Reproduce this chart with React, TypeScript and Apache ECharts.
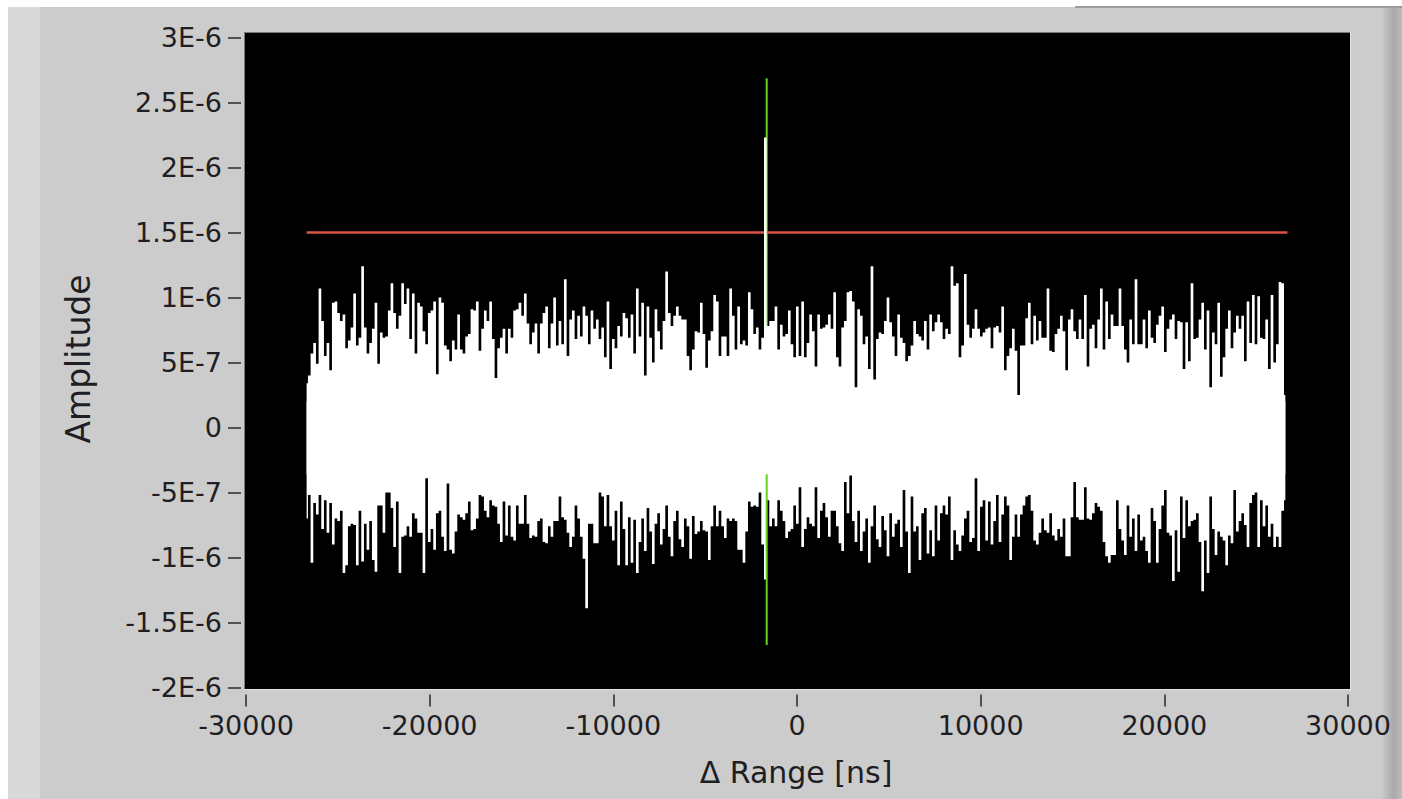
import React, { useEffect, useRef } from "react";
import * as echarts from "echarts";

// ---- data (amplitude envelopes, in units of 1E-8) ----
const X_START = -26700; // ns, first sample
const SAMPLE_NS = 145.2; // ns between samples
const UNIT = 1e-8;

// upper edge of the noise trace (peak value of each sample)
const UPPER = [
  34, 40, 57, 65, 49, 107, 82, 55, 65, 44, 96, 97, 88, 82, 87, 61, 67, 77, 103, 63, 69, 124, 77, 57, 65, 76, 96, 49, 73, 69,
  70, 90, 111, 88, 76, 86, 111, 95, 107, 68, 103, 57, 96, 93, 74, 64, 88, 90, 97, 41, 100, 96, 63, 60, 51, 67, 60, 87, 60, 57,
  70, 72, 91, 90, 97, 59, 76, 90, 82, 97, 68, 38, 61, 69, 76, 57, 76, 69, 90, 91, 96, 86, 103, 80, 64, 73, 80, 57, 80, 88,
  93, 61, 80, 100, 63, 82, 64, 114, 55, 83, 90, 68, 86, 70, 93, 86, 64, 90, 76, 83, 68, 77, 54, 97, 45, 68, 61, 78, 70, 88,
  84, 69, 87, 57, 107,
  70, 96, 40, 93, 69, 50, 91, 74, 60, 82, 120, 88, 78, 86, 93, 86, 83, 83, 55, 44, 60, 74, 73, 96, 72, 46, 67, 74, 102, 97,
  55, 70, 70, 55, 107, 86, 60, 93, 64, 67, 63, 104, 91, 72, 77, 60, 69, 223, 78, 82, 82, 93, 60, 79, 70, 72, 90, 64, 54, 93,
  55, 97, 54, 65, 87, 74, 47, 87, 76, 77, 79, 87, 76, 104, 54, 47, 77, 82, 104, 105, 97, 31, 91, 86, 64, 70, 45, 124, 37, 68,
  73, 72, 82, 100, 81, 70, 55, 87, 69, 65, 51, 55, 63, 82, 72, 70, 67, 82, 60, 87, 74, 81, 87, 81, 68, 76, 72, 124, 109, 111,
  54, 63, 118, 79, 69, 76, 91, 76, 70, 73, 76, 77, 61, 77, 78,
  73, 93, 44, 55, 61, 76, 59, 25, 63, 63, 84, 96, 64, 86, 67, 82, 69, 69, 107, 59, 58, 72, 76, 86, 74, 44, 83, 91, 74, 68,
  83, 68, 102, 47, 76, 79, 61, 83, 107, 60, 97, 68, 87, 78, 78, 107, 78, 60, 50, 83, 64, 114, 64, 64, 83, 61, 90, 69, 65, 79,
  86, 93, 58, 76, 83, 87, 68, 82, 81, 45, 81, 51, 111, 68, 69, 83, 96, 60, 90, 31, 73, 64, 96, 39, 54, 76, 90, 61, 73, 86,
  76, 86, 51, 97, 65, 102, 64, 101, 69, 68, 83, 45, 102, 50, 64, 112, 111, 25,
];

// lower edge of the noise trace (trough value of each sample)
const LOWER = [
  -70, -52, -104, -58, -67, -52, -78, -56, -81, -58, -90, -70, -72, -64, -112, -106, -76, -74, -75, -106, -64, -103, -74, -94, -72,
  -102, -111, -60, -60, -81, -50, -50, -62, -92, -57, -112, -84, -83, -76, -84, -66, -70, -81, -81, -112, -39, -88, -78, -94, -66,
  -64, -84, -95, -43, -94, -97, -80, -67, -69, -71, -66, -57, -79, -78, -70, -52, -53, -64, -69, -56, -60, -61, -74, -88, -57,
  -83, -60, -84, -87, -60, -74, -74, -52, -74, -85, -83, -84, -72, -70, -88, -89, -76, -84, -72, -72, -53, -69, -71, -81, -92,
  -84, -60, -70, -84, -101, -139, -74, -74, -89, -89, -50, -53, -76, -52, -76, -87, -64, -106, -57, -78, -106, -69, -104, -71, -112,
  -88, -70, -95, -62, -80, -105, -74, -66, -90, -78, -60, -84, -99, -72, -64, -86, -92, -70, -76, -101, -68, -82, -80,
  -72, -79, -80, -102, -76, -60, -76, -64, -76, -85, -70, -72, -70, -72, -94, -94, -104, -80, -57, -61, -60, -61, -50, -90, -117,
  -56, -76, -70, -76, -56, -64, -72, -85, -80, -78, -60, -74, -46, -92, -78, -69, -74, -76, -46, -85, -64, -58, -69, -84, -64,
  -64, -76, -89, -95, -42, -66, -37,
  -72, -88, -64, -95, -80, -70, -104, -76, -60, -86, -92, -68, -79, -99, -66, -84, -74,
  -71, -92, -48, -80, -112, -53, -80, -76, -102, -66, -62, -97, -79, -99, -60, -87, -66, -60, -67, -53, -102, -79, -90, -95, -83,
  -70, -64, -88, -85, -39, -95, -61, -56, -87, -57, -90, -72, -52, -88, -67, -53, -60, -102, -84, -67, -84, -67, -60, -53, -52,
  -64, -87, -90, -81, -70, -79, -81, -66, -83, -87, -78, -84, -70, -99, -99, -69, -42, -69, -71, -71, -46, -70, -71, -66, -58,
  -61, -64, -88, -99, -104, -98, -98, -56, -78, -87, -98, -60, -84, -70, -95, -67, -87, -84, -95, -104, -62, -72, -104, -78, -60,
  -48, -81, -83, -118, -79, -111, -53, -85, -56, -76, -72, -71, -66, -88, -126, -87, -112, -53, -78, -98, -80, -84, -87, -106, -83,
  -89, -48, -80, -72, -66, -75, -92, -58, -52, -50, -92, -56, -76, -60, -84, -74, -92, -84, -92, -64, -56,
];

const THRESHOLD = 1.5e-6;
const THRESHOLD_X = [-26700, 26700];
const CURSOR_X = -1650;
const CURSOR_Y = [2.686e-6, -1.673e-6];

const X_MIN = -30000;
const X_MAX = 30000;
const X_STEP = 10000;
const Y_TICK_VALUES = [-2e-6, -1.5e-6, -1e-6, -5e-7, 0, 5e-7, 1e-6, 1.5e-6, 2e-6, 2.5e-6, 3e-6];
const Y_TICK_LABELS = ["-2E-6", "-1.5E-6", "-1E-6", "-5E-7", "0", "5E-7", "1E-6", "1.5E-6", "2E-6", "2.5E-6", "3E-6"];
const X_TITLE = "\u0394 Range [ns]";
const Y_TITLE = "Amplitude";

const FONT = "DejaVu Sans";
const TEXT_COLOR = "#1e1e24";

export default function App() {
  const ref = useRef<HTMLDivElement>(null);

  useEffect(() => {
    if (!ref.current) return;
    const chart = echarts.init(ref.current, null, { renderer: "svg" });

    const upperData = UPPER.map((v, i) => [X_START + i * SAMPLE_NS, v * UNIT]);
    const lowerData = LOWER.map((v, i) => [X_START + i * SAMPLE_NS, v * UNIT]);

    const yLabel = (v: number) => {
      for (let i = 0; i < Y_TICK_VALUES.length; i++) {
        if (Math.abs(Y_TICK_VALUES[i] - v) < 1e-12) return Y_TICK_LABELS[i];
      }
      return "";
    };

    chart.setOption({
      animation: false,
      backgroundColor: "#ffffff",
      grid: { left: 246, right: 54, top: 37.5, bottom: 111.5, containLabel: false },
      graphic: [
        { type: "rect", z: -10, shape: { x: 8, y: 7, width: 1394, height: 792 }, style: { fill: "#cccccc" } },
        { type: "rect", z: -9, shape: { x: 8, y: 7, width: 32, height: 792 }, style: { fill: "#d9d9d9" } },
        {
          type: "rect",
          z: -9,
          shape: { x: 1382, y: 7, width: 20, height: 792 },
          style: {
            fill: new echarts.graphic.LinearGradient(0, 0, 1, 0, [
              { offset: 0, color: "#c9c9c9" },
              { offset: 0.6, color: "#a9a9a9" },
              { offset: 1, color: "#bdbdbd" },
            ]),
          },
        },
        { type: "rect", z: -9, shape: { x: 1075, y: 6, width: 327, height: 2 }, style: { fill: "#9c9c9c" } },
        { type: "rect", z: -8, shape: { x: 244, y: 32, width: 1107, height: 658 }, style: { fill: "#e4e4e4" } },
        { type: "rect", z: -7, shape: { x: 244, y: 32, width: 1106, height: 657 }, style: { fill: "#7a7a7a" } },
        { type: "rect", z: -6, shape: { x: 245, y: 33, width: 1105, height: 656 }, style: { fill: "#000000" } },
        {
          type: "text",
          z: 10,
          x: 78,
          y: 359,
          rotation: Math.PI / 2,
          style: {
            text: Y_TITLE,
            fill: TEXT_COLOR,
            font: `33px "${FONT}"`,
            align: "center",
            verticalAlign: "middle",
          },
        },
        {
          type: "text",
          z: 10,
          x: 796,
          y: 772,
          style: {
            text: X_TITLE,
            fill: TEXT_COLOR,
            font: `30px "${FONT}"`,
            align: "center",
            verticalAlign: "middle",
          },
        },
      ],
      xAxis: {
        type: "value",
        min: X_MIN,
        max: X_MAX,
        interval: X_STEP,
        offset: 7,
        axisLine: { show: false, onZero: false },
        axisTick: { show: true, length: 12, lineStyle: { color: "#2a2a2a", width: 1.5 } },
        splitLine: { show: false },
        axisLabel: {
          margin: 17,
          color: TEXT_COLOR,
          fontFamily: FONT,
          fontSize: 27,
          formatter: (v: number) => String(v),
        },
      },
      yAxis: {
        type: "value",
        min: Y_TICK_VALUES[0],
        max: Y_TICK_VALUES[Y_TICK_VALUES.length - 1],
        interval: 5e-7,
        offset: 5,
        axisLine: { show: false, onZero: false },
        axisTick: { show: true, length: 13, lineStyle: { color: "#2a2a2a", width: 1.5 } },
        splitLine: { show: false },
        axisLabel: {
          margin: 19,
          color: TEXT_COLOR,
          fontFamily: FONT,
          fontSize: 27,
          formatter: yLabel,
        },
      },
      series: [
        {
          name: "lower",
          type: "line",
          data: lowerData,
          step: "middle",
          symbol: "none",
          silent: true,
          z: 2,
          lineStyle: { width: 0, color: "#ffffff" },
          areaStyle: { color: "#ffffff", opacity: 1, origin: 2e-7 },
        },
        {
          name: "cursor",
          type: "line",
          data: [
            [CURSOR_X, CURSOR_Y[0]],
            [CURSOR_X, CURSOR_Y[1]],
          ],
          symbol: "none",
          silent: true,
          z: 3,
          lineStyle: { width: 2, color: "#62d322" },
        },
        {
          name: "threshold",
          type: "line",
          data: [
            [THRESHOLD_X[0], THRESHOLD],
            [THRESHOLD_X[1], THRESHOLD],
          ],
          symbol: "none",
          silent: true,
          z: 3,
          lineStyle: { width: 2.5, color: "#dc5246" },
        },
        {
          name: "upper",
          type: "line",
          data: upperData,
          step: "middle",
          symbol: "none",
          silent: true,
          z: 4,
          lineStyle: { width: 0, color: "#ffffff" },
          areaStyle: { color: "#ffffff", opacity: 1, origin: -3.6e-7 },
        },
      ],
    });

    return () => chart.dispose();
  }, []);

  return <div ref={ref} style={{ position: "fixed", left: 0, top: 0, width: 1402, height: 799 }} />;
}
